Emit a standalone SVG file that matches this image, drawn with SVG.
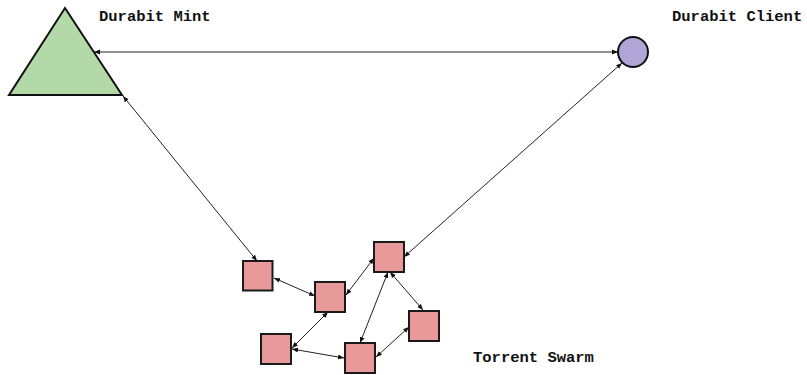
<svg xmlns="http://www.w3.org/2000/svg" width="807" height="375" viewBox="0 0 807 375">
  <defs>
    <marker id="tip" viewBox="0 0 10 10" refX="10" refY="5" markerWidth="6" markerHeight="6" markerUnits="userSpaceOnUse" orient="auto-start-reverse">
      <path d="M0,1 L10,5 L0,9 Z" fill="#111"/>
    </marker>
    <style>
      .lbl { font-family: "Liberation Mono", "Courier New", monospace; font-weight: bold; font-size: 15.5px; fill: #111; }
      .peer { fill: #e89a9a; stroke: #1a1a1a; stroke-width: 2; }
      .link { stroke: #222; stroke-width: 1; fill: none; marker-start: url(#tip); marker-end: url(#tip); }
    </style>
  </defs>
  <rect width="807" height="375" fill="#ffffff"/>

  <g id="connectors">
    <line class="link" x1="94" y1="52" x2="618" y2="52"/>
    <line class="link" x1="123" y1="96" x2="257" y2="261"/>
    <line class="link" x1="622" y1="63" x2="404" y2="257"/>
    <line class="link" x1="274" y1="278" x2="315" y2="296"/>
    <line class="link" x1="346" y1="295" x2="374" y2="258"/>
    <line class="link" x1="328" y1="312" x2="292" y2="348"/>
    <line class="link" x1="292" y1="349" x2="344" y2="358"/>
    <line class="link" x1="388" y1="272" x2="360" y2="343"/>
    <line class="link" x1="390" y1="272" x2="423" y2="310"/>
    <line class="link" x1="409" y1="327" x2="376" y2="357"/>
  </g>

  <g id="mint">
    <polygon points="65,8 9,95 122,95" fill="#b4d9a8" stroke="#111" stroke-width="2"/>
    <text class="lbl" x="99" y="21">Durabit Mint</text>
  </g>

  <g id="client">
    <circle cx="633" cy="52" r="15" fill="#b0a5d6" stroke="#111" stroke-width="2"/>
    <text class="lbl" x="672" y="21">Durabit Client</text>
  </g>

  <g id="swarm">
    <g id="peer1"><rect class="peer" x="243" y="261" width="29.5" height="29.5"/></g>
    <g id="peer2"><rect class="peer" x="315" y="282" width="30" height="30"/></g>
    <g id="peer3"><rect class="peer" x="374" y="242" width="30" height="30"/></g>
    <g id="peer4"><rect class="peer" x="409" y="311" width="30" height="30"/></g>
    <g id="peer5"><rect class="peer" x="261" y="334" width="30" height="30"/></g>
    <g id="peer6"><rect class="peer" x="345" y="343" width="30" height="30"/></g>
    <text class="lbl" x="473" y="362">Torrent Swarm</text>
  </g>
</svg>
